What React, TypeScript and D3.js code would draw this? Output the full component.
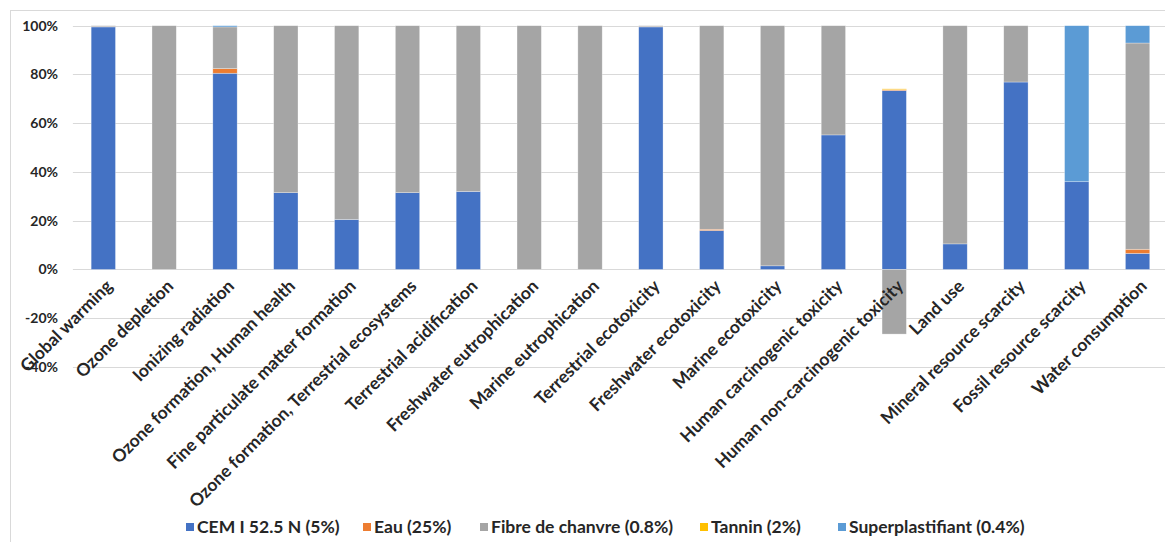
import React from 'react';
import * as d3 from 'd3';

const categories = [
  'Global warming',
  'Ozone depletion',
  'Ionizing radiation',
  'Ozone formation, Human health',
  'Fine particulate matter formation',
  'Ozone formation, Terrestrial ecosystems',
  'Terrestrial acidification',
  'Freshwater eutrophication',
  'Marine eutrophication',
  'Terrestrial ecotoxicity',
  'Freshwater ecotoxicity',
  'Marine ecotoxicity',
  'Human carcinogenic toxicity',
  'Human non-carcinogenic toxicity',
  'Land use',
  'Mineral resource scarcity',
  'Fossil resource scarcity',
  'Water consumption',
];

// values in % of total
const cem = [99.5, 0, 80.5, 31.5, 20.5, 31.5, 32, 0, 0, 99.5, 16, 1.5, 55.2, 73.4, 10.5, 76.9, 36, 6.6];
const eau = [0.1, 0, 1.9, 0, 0, 0, 0, 0, 0, 0.1, 0.5, 0, 0, 0.4, 0, 0, 0, 1.7];
const fibre = [0.4, 100, 17.1, 68.5, 79.5, 68.5, 68, 100, 100, 0.4, 83.5, 98.5, 44.8, -26.5, 89.5, 23.1, 0, 84.6];
const tannin = [0, 0, 0, 0, 0, 0, 0, 0, 0, 0, 0, 0, 0, 0.3, 0, 0, 0, 0];
const superplastifiant = [0, 0, 0.5, 0, 0, 0, 0, 0, 0, 0, 0, 0, 0, 0, 0, 0, 64, 7.1];

const seriesNames = ['CEM I 52.5 N (5%)', 'Eau (25%)', 'Fibre de chanvre (0.8%)', 'Tannin (2%)', 'Superplastifiant (0.4%)'];
const seriesColors = ['#4472C4', '#ED7D31', '#A5A5A5', '#FFC000', '#5B9BD5'];
const yTicks = [-40, -20, 0, 20, 40, 60, 80, 100];

// legend layout (marker left edges, px)
const legendX = [186, 363, 480, 700, 838];

const FONT = 'Lato, "Open Sans", sans-serif';

export default function App() {
  const W = 1165;
  const H = 542;
  const seriesData = [cem, eau, fibre, tannin, superplastifiant];
  const keys = seriesNames;
  const rows = categories.map((c, i) => {
    const r: any = { category: c };
    keys.forEach((k, s) => (r[k] = seriesData[s][i]));
    return r;
  });
  const stack = d3.stack<any>().keys(keys).offset(d3.stackOffsetDiverging);
  const stacked = stack(rows);

  const x = d3.scaleBand<string>().domain(categories).range([72.9, 1168]).paddingInner(0.6).paddingOuter(0.3);
  const y = d3.scaleLinear().domain([-40, 100]).range([367, 25.7]);

  const sq = 8;
  const legendY = 527;

  return (
    <svg width={W} height={H} style={{ position: 'absolute', left: 0, top: 0, display: 'block', background: '#fff' }}>
      <rect x={10.5} y={10.5} width={1200} height={600} fill="#fff" stroke="#d9d9d9" strokeWidth={1} />
      {yTicks.map((t) => (
        <g key={t}>
          <line x1={72.9} x2={1168} y1={Math.round(y(t)) + 0.5} y2={Math.round(y(t)) + 0.5} stroke="#d9d9d9" strokeWidth={1} />
          <text x={58} y={y(t)} dy="0.35em" textAnchor="end" fontFamily={FONT} fontWeight={700} fontSize={14} fill="#262626">
            {t}%
          </text>
        </g>
      ))}
      {stacked.map((s, si) => (
        <g key={s.key} fill={seriesColors[si]}>
          {s.map((d, i) => {
            const y0 = y(d[0]);
            const y1 = y(d[1]);
            const h = Math.abs(y0 - y1);
            if (h <= 0) return null;
            return (
              <rect
                key={i}
                x={x(categories[i])}
                width={x.bandwidth()}
                y={Math.min(y0, y1)}
                height={h}
                stroke="#ffffff"
                strokeOpacity={0.5}
                strokeWidth={0.6}
              />
            );
          })}
        </g>
      ))}
      {categories.map((c) => {
        const cx = (x(c) as number) + x.bandwidth() / 2;
        return (
          <text
            key={c}
            transform={`translate(${cx + 1},${278}) rotate(-45)`}
            dy="0.75em"
            textAnchor="end"
            fontFamily={FONT}
            fontWeight={700}
            fontSize={17.5}
            fill="#262626"
          >
            {c}
          </text>
        );
      })}
      {seriesNames.map((n, i) => (
        <g key={n} transform={`translate(${legendX[i]},${legendY})`}>
          <rect x={0} y={-sq / 2} width={sq} height={sq} fill={seriesColors[i]} />
          <text x={sq + 3} y={0} dy="0.35em" fontFamily={FONT} fontWeight={700} fontSize={17.5} fill="#262626">
            {n}
          </text>
        </g>
      ))}
    </svg>
  );
}
